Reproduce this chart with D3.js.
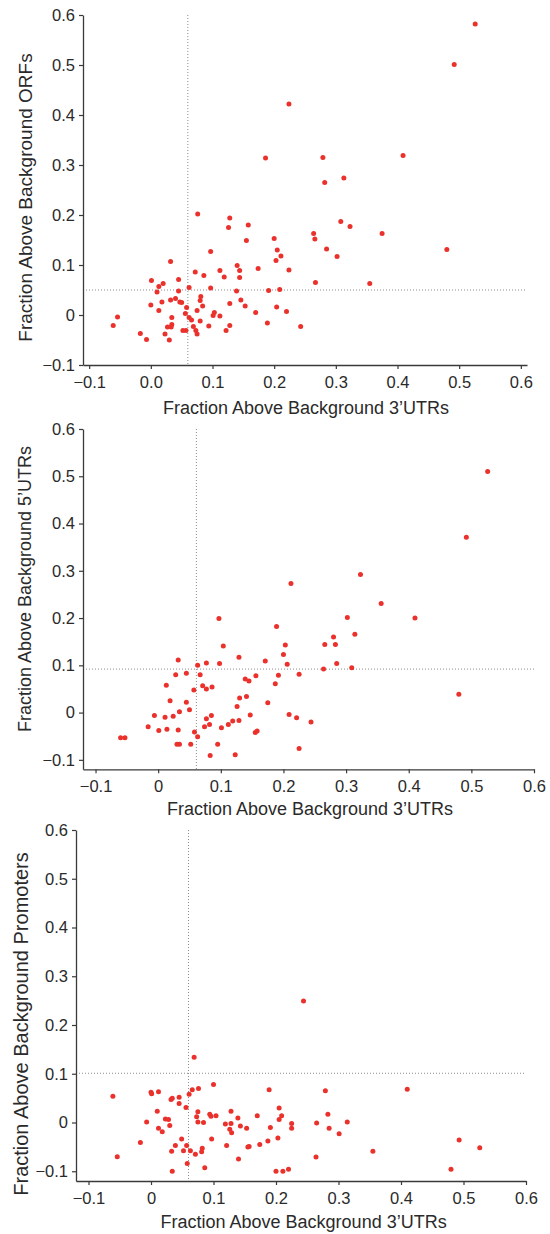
<!DOCTYPE html>
<html>
<head>
<meta charset="utf-8">
<script src="https://cdn.jsdelivr.net/npm/d3@7"></script>
<style>
  html, body { margin: 0; padding: 0; background: #fff; }
  svg { display: block; }
  .tick text { font-family: "Liberation Sans", Arial, Helvetica, sans-serif; fill: #2a2a2a; }
  .title { font-family: "Liberation Sans", Arial, Helvetica, sans-serif; fill: #2a2a2a; }
</style>
</head>
<body>
<script>
// ---- Data ----
const xTitle = "Fraction Above Background 3\u2019UTRs";
const yTitles = ["Fraction Above Background ORFs", "Fraction Above Background 5\u2019UTRs", "Fraction Above Background Promoters"];

const tickValues = [-0.1, 0, 0.1, 0.2, 0.3, 0.4, 0.5, 0.6];
const xTickLabels1 = ["\u22120.1", "0.0", "0.1", "0.2", "0.3", "0.4", "0.5", "0.6"];
const xTickLabels23 = ["\u22120.1", "0", "0.1", "0.2", "0.3", "0.4", "0.5", "0.6"];
const yTickLabels = ["\u22120.1", "0", "0.1", "0.2", "0.3", "0.4", "0.5", "0.6"];

// reference (dotted) lines: [x threshold, y threshold]
const refLines = [[0.06, 0.05], [0.061, 0.092], [0.06, 0.101]];

// points: [3'UTR fraction, other region fraction]
const orfPoints = [
  [0.526,0.582],[0.492,0.501],[0.224,0.422],[0.186,0.314],[0.279,0.315],[0.409,0.319],[0.282,0.265],[0.313,0.274],
  [0.076,0.202],[0.128,0.194],[0.126,0.175],[0.158,0.180],[0.155,0.149],[0.097,0.127],[0.032,0.107],[0.140,0.099],
  [0.144,0.089],[0.144,0.075],[0.112,0.089],[0.119,0.076],[0.072,0.086],[0.086,0.079],[0.174,0.093],[0.200,0.153],
  [0.205,0.130],[0.203,0.109],[0.211,0.118],[0.224,0.090],[0.264,0.163],[0.266,0.152],[0.285,0.132],[0.302,0.117],
  [0.308,0.187],[0.323,0.177],[0.375,0.163],[0.480,0.131],[0.267,0.065],[0.355,0.063],[0.191,0.049],[0.209,0.051],
  [0.204,0.016],[0.220,0.007],[0.189,-0.016],[0.243,-0.023],[0.170,0.005],[0.153,0.018],[0.146,0.030],[0.139,0.048],
  [0.128,0.023],[0.112,-0.002],[0.128,-0.021],[0.122,-0.031],[0.103,0.005],[0.101,-0.001],[0.097,0.054],[0.094,-0.022],
  [0.081,0.037],[0.080,0.029],[0.084,0.018],[0.075,0.009],[0.080,-0.012],[0.069,-0.023],[0.073,-0.031],[0.075,-0.038],
  [0.066,-0.010],[0.062,-0.005],[0.062,0.055],[0.058,0.015],[0.056,0.003],[0.057,-0.031],[0.052,-0.031],[0.045,0.071],
  [0.045,0.048],[0.047,0.026],[0.050,0.025],[0.040,0.033],[0.032,0.030],[0.034,-0.005],[0.034,-0.019],[0.033,-0.024],
  [0.027,-0.024],[0.023,-0.038],[0.030,-0.050],[0.020,0.063],[0.013,0.057],[0.010,0.046],[0.001,0.069],[0.018,0.026],
  [0.013,0.009],[0.000,0.020],[-0.017,-0.037],[-0.007,-0.049],[-0.054,-0.004],[-0.061,-0.021]
];

const utr5Points = [
  [0.526,0.510],[0.492,0.371],[0.212,0.273],[0.323,0.292],[0.356,0.231],
  [0.302,0.201],[0.410,0.200],[0.097,0.199],[0.189,0.182],[0.280,0.160],[0.314,0.166],[0.266,0.144],[0.283,0.144],
  [0.104,0.141],[0.203,0.143],[0.200,0.123],[0.129,0.117],[0.032,0.111],[0.171,0.109],[0.077,0.105],[0.098,0.104],
  [0.063,0.100],[0.206,0.102],[0.285,0.104],[0.264,0.092],[0.309,0.095],[0.028,0.080],[0.045,0.083],[0.067,0.080],
  [0.192,0.079],[0.225,0.081],[0.156,0.078],[0.139,0.071],[0.145,0.067],[0.187,0.061],[0.013,0.058],[0.071,0.057],
  [0.077,0.050],[0.057,0.048],[0.086,0.054],[0.480,0.039],[0.019,0.025],[0.045,0.022],[0.130,0.031],[0.141,0.034],
  [0.175,0.021],[0.126,0.013],[0.050,0.006],[0.034,0.002],[-0.006,-0.006],[0.011,-0.010],[0.024,-0.008],[0.085,-0.006],
  [0.147,-0.005],[0.209,-0.004],[0.221,-0.011],[0.244,-0.020],[0.077,-0.013],[0.119,-0.018],[0.129,-0.017],[0.112,-0.025],
  [0.082,-0.025],[0.074,-0.030],[0.101,-0.032],[-0.016,-0.030],[0.001,-0.038],[0.014,-0.035],[0.032,-0.037],[0.058,-0.041],
  [0.155,-0.042],[0.158,-0.039],[0.063,-0.051],[-0.060,-0.053],[-0.053,-0.053],[0.030,-0.067],[0.034,-0.067],[0.052,-0.067],
  [0.095,-0.067],[0.083,-0.091],[0.123,-0.089],[0.225,-0.076]
];

const promoterPoints = [
  [0.244,0.249],[0.069,0.134],[-0.061,0.054],[-0.054,-0.070],[0.000,0.062],[0.001,0.059],[0.012,0.063],[0.010,0.023],
  [0.012,-0.012],[0.018,-0.019],[-0.007,0.001],[-0.017,-0.041],[0.023,0.007],[0.028,0.006],[0.030,-0.006],[0.032,0.047],
  [0.034,0.050],[0.045,0.052],[0.045,0.039],[0.056,0.031],[0.061,0.058],[0.066,0.067],[0.076,0.070],[0.075,0.022],
  [0.073,0.012],[0.075,0.001],[0.084,0.000],[0.100,0.078],[0.094,0.017],[0.096,0.013],[0.104,0.014],[0.097,-0.034],
  [0.049,-0.034],[0.039,-0.047],[0.057,-0.047],[0.033,-0.059],[0.052,-0.058],[0.063,-0.058],[0.071,-0.065],[0.082,-0.053],
  [0.081,-0.060],[0.058,-0.084],[0.034,-0.100],[0.086,-0.093],[0.128,0.023],[0.119,-0.003],[0.128,-0.002],[0.126,-0.014],
  [0.129,-0.021],[0.121,-0.047],[0.139,0.009],[0.143,-0.007],[0.153,-0.012],[0.155,-0.050],[0.157,-0.049],[0.140,-0.075],
  [0.170,0.014],[0.174,-0.045],[0.189,0.067],[0.191,-0.010],[0.187,-0.038],[0.203,-0.032],[0.205,0.030],[0.209,0.014],
  [0.205,0.006],[0.225,-0.002],[0.225,-0.012],[0.200,-0.100],[0.211,-0.100],[0.220,-0.096],[0.265,-0.001],[0.264,-0.071],
  [0.279,0.065],[0.283,0.017],[0.285,-0.012],[0.301,-0.023],[0.314,0.001],[0.355,-0.059],[0.410,0.068],[0.480,-0.096],
  [0.493,-0.036],[0.526,-0.052]
];

// ---- Layout ----
const W = 550, H = 1234;
const panels = [
  { pts: orfPoints, ref: refLines[0], xDom: [-0.11, 0.61], yDom: [-0.1, 0.6], left: 83, right: 527, top: 15, bottom: 365,
    xLabels: xTickLabels1, yTitle: yTitles[0], yTitleSize: 19, yTitleX: 32, yTitleY: 197.5, xTitleX: 306, xTitleY: 414 },
  { pts: utr5Points, ref: refLines[1], xDom: [-0.12, 0.6], yDom: [-0.12, 0.6], left: 83, right: 534, top: 429, bottom: 769.3,
    xLabels: xTickLabels23, yTitle: yTitles[1], yTitleSize: 18, yTitleX: 30.5, yTitleY: 589, xTitleX: 310, xTitleY: 815 },
  { pts: promoterPoints, ref: refLines[2], xDom: [-0.12, 0.6], yDom: [-0.12, 0.6], left: 76, right: 526, top: 830, bottom: 1181,
    xLabels: xTickLabels23, yTitle: yTitles[2], yTitleSize: 20, yTitleX: 27.5, yTitleY: 1024, xTitleX: 303.6, xTitleY: 1228 }
];

const svg = d3.select("body").append("svg").attr("width", W).attr("height", H);

panels.forEach(p => {
  const x = d3.scaleLinear().domain(p.xDom).range([p.left, p.right]);
  const y = d3.scaleLinear().domain(p.yDom).range([p.bottom, p.top]);
  const g = svg.append("g");

  // dotted reference lines
  g.append("line")
    .attr("x1", x(p.ref[0])).attr("x2", x(p.ref[0]))
    .attr("y1", y(0.6)).attr("y2", p.bottom)
    .attr("stroke", "#8c8c8c").attr("stroke-width", 1).attr("stroke-dasharray", "1,2");
  g.append("line")
    .attr("x1", p.left).attr("x2", p.right)
    .attr("y1", y(p.ref[1])).attr("y2", y(p.ref[1]))
    .attr("stroke", "#8c8c8c").attr("stroke-width", 1).attr("stroke-dasharray", "1,2");

  // axes
  const xAxis = d3.axisBottom(x).tickValues(tickValues)
    .tickFormat((d, i) => p.xLabels[i]).tickSize(4).tickSizeOuter(0).tickPadding(7);
  const yAxis = d3.axisLeft(y).tickValues(tickValues)
    .tickFormat((d, i) => yTickLabels[i]).tickSize(4).tickSizeOuter(0).tickPadding(4);

  const gx = g.append("g").attr("transform", `translate(0,${p.bottom})`).call(xAxis);
  const gy = g.append("g").attr("transform", `translate(${p.left},0)`).call(yAxis);
  [gx, gy].forEach(a => {
    a.select(".domain").attr("stroke", "#3a3a3a").attr("stroke-width", 1.3);
    a.selectAll(".tick line").attr("stroke", "#3a3a3a").attr("stroke-width", 1.2);
    a.selectAll(".tick text").attr("font-size", 16.5).attr("fill", "#2a2a2a");
  });

  // points
  g.append("g").selectAll("circle").data(p.pts).join("circle")
    .attr("cx", d => x(d[0])).attr("cy", d => y(d[1]))
    .attr("r", 2.5).attr("fill", "#ea312c");

  // titles
  svg.append("text").attr("class", "title")
    .attr("x", p.xTitleX).attr("y", p.xTitleY)
    .attr("text-anchor", "middle").attr("font-size", 18)
    .text(xTitle);
  svg.append("text").attr("class", "title")
    .attr("transform", `translate(${p.yTitleX},${p.yTitleY}) rotate(-90)`)
    .attr("text-anchor", "middle").attr("font-size", p.yTitleSize)
    .text(p.yTitle);
});
</script>
</body>
</html>
